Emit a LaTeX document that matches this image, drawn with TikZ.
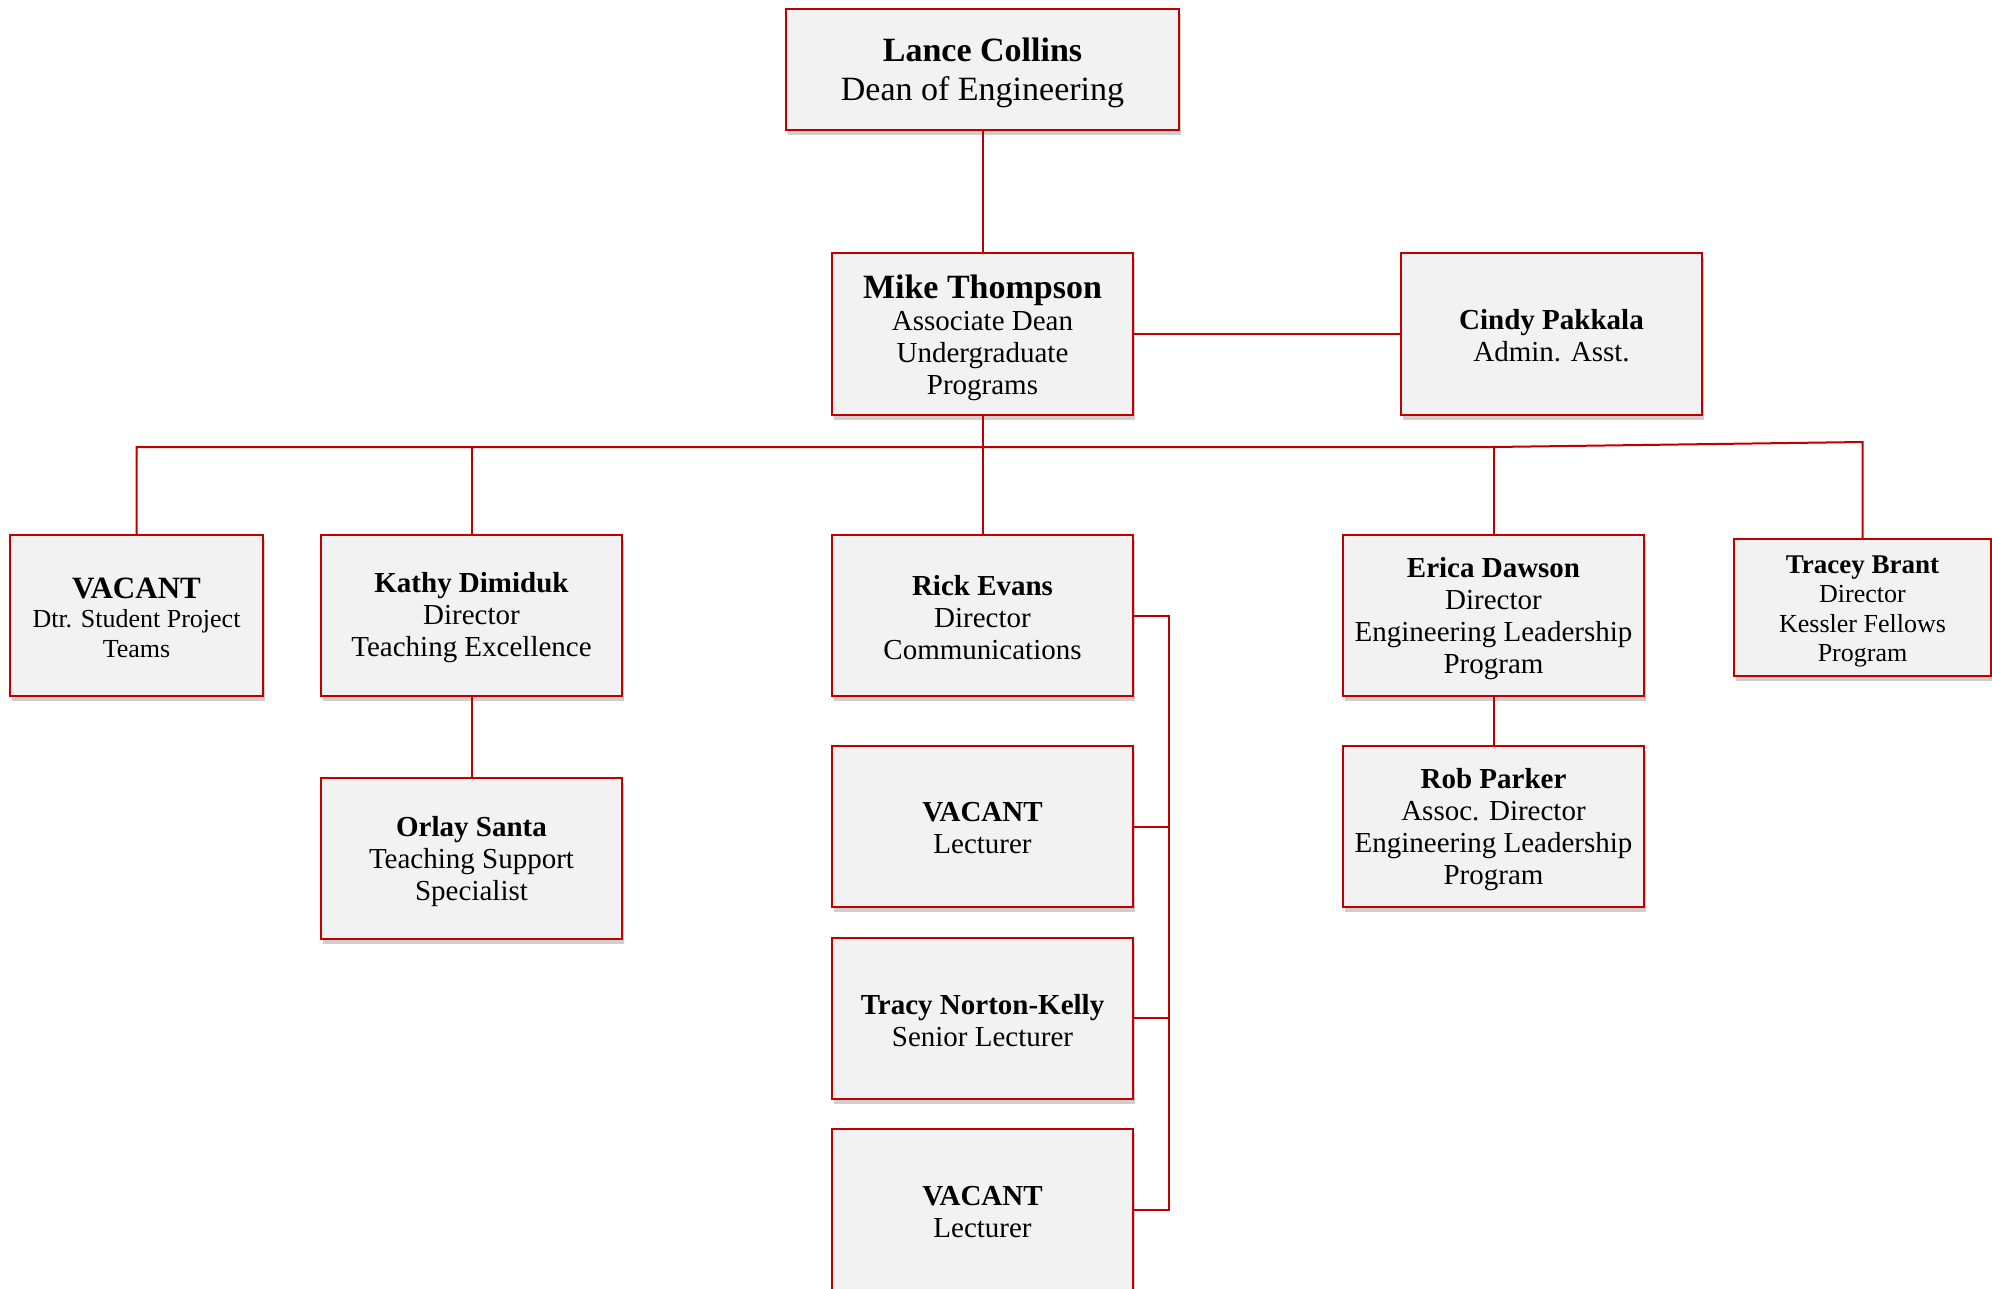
\documentclass[tikz,border=0pt]{standalone}
\usepackage{fontspec}
\setmainfont{Liberation Serif}
\usetikzlibrary{shadows}
\definecolor{boxred}{RGB}{192,0,0}
\definecolor{boxfill}{RGB}{242,242,242}
\newcommand\liftline[1]{\rule{0pt}{#1}}
\tikzset{
  orgbox/.style={draw=boxred, fill=boxfill, line width=2pt, inner sep=0pt,
    minimum width=301pt, minimum height=161pt, align=center,
    font=\fontsize{29}{32}\selectfont,
    drop shadow={shadow xshift=2pt, shadow yshift=-5pt, fill=black!35, opacity=0.55}},
  link/.style={draw=boxred, line width=2pt},
  big/.style={font=\fontsize{34}{39}\selectfont},
  small/.style={font=\fontsize{26}{29.5}\selectfont}
}
\begin{document}
\begin{tikzpicture}[x=1pt,y=-1pt]
\useasboundingbox (0,0) rectangle (1992,1288);
\node[orgbox, big, minimum width=393pt, minimum height=121pt] (lance) at (982.5,69.5)
  {\liftline{31pt}\textbf{Lance Collins}\\Dean of Engineering};
\node[orgbox, minimum height=162pt] (mike) at (982.5,334)
  {\liftline{31pt}{\fontsize{34}{33}\selectfont\textbf{Mike Thompson}}\\Associate Dean\\Undergraduate\\Programs};
\node[orgbox, minimum height=162pt] (cindy) at (1551.5,334)
  {\liftline{24pt}\textbf{Cindy Pakkala}\\Admin. Asst.};
\node[orgbox, small, minimum width=253pt] (vac1) at (136.5,615.5)
  {\liftline{25pt}{\fontsize{31}{32}\selectfont\textbf{VACANT}}\\Dtr. Student Project\\Teams};
\node[orgbox] (kathy) at (471.5,615.5)
  {\liftline{25pt}\textbf{Kathy Dimiduk}\\Director\\Teaching Excellence};
\node[orgbox] (rick) at (982.5,615.5)
  {\liftline{24pt}\textbf{Rick Evans}\\Director\\Communications};
\node[orgbox] (erica) at (1493.5,615.5)
  {\liftline{26pt}\textbf{Erica Dawson}\\Director\\Engineering Leadership\\Program};
\node[orgbox, small, minimum width=257pt, minimum height=137pt] (tracey) at (1862.5,607.5)
  {\liftline{26pt}{\fontsize{27}{30}\selectfont\textbf{Tracey Brant}}\\Director\\Kessler Fellows\\Program};
\node[orgbox] (orlay) at (471.5,858.5)
  {\liftline{26pt}\textbf{Orlay Santa}\\Teaching Support\\Specialist};
\node[orgbox] (vac2) at (982.5,826.5)
  {\liftline{22pt}\textbf{VACANT}\\Lecturer};
\node[orgbox] (tracy) at (982.5,1018)
  {\liftline{26pt}\textbf{Tracy Norton-Kelly}\\Senior Lecturer};
\node[orgbox] (vac3) at (982.5,1209.5)
  {\liftline{24pt}\textbf{VACANT}\\Lecturer};
\node[orgbox] (rob) at (1493.5,826.5)
  {\liftline{26pt}\textbf{Rob Parker}\\Assoc. Director\\Engineering Leadership\\Program};
\coordinate (bus) at (0,447);
\coordinate (rail) at (1169,0);
\coordinate (bend) at (1862.5,442);
\draw[link] (lance.south) -- (mike.north);
\draw[link] (mike.east) -- (cindy.west);
\draw[link] (mike.south) -- (rick.north);
\draw[link] (vac1.north) -- (vac1.north |- bus) -- (erica.north |- bus) -- (bend) -- (tracey.north);
\draw[link] (kathy.north) -- (kathy.north |- bus);
\draw[link] (erica.north) -- (erica.north |- bus);
\draw[link] (kathy.south) -- (orlay.north);
\draw[link] (erica.south) -- (rob.north);
\draw[link] (rick.east) -| (rail |- vac3.east) -- (vac3.east);
\draw[link] (vac2.east) -- (vac2.east -| rail);
\draw[link] (tracy.east) -- (tracy.east -| rail);
\end{tikzpicture}
\end{document}
